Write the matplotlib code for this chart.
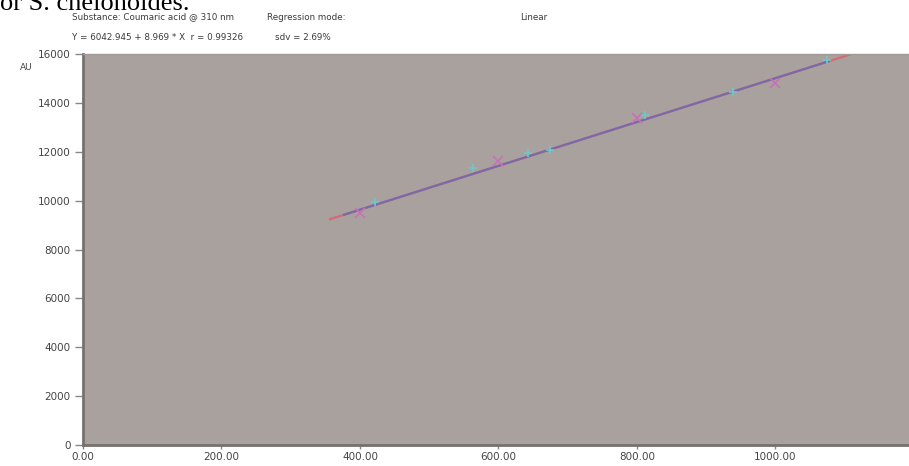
import matplotlib.pyplot as plt
import numpy as np

# calibration data
conc = [400, 600, 800, 1000]
area = [9500, 11620, 13380, 14810]
# cyan marks sitting on the fit line
conc_b = [422, 563, 643, 674, 811, 939, 1074]
area_b = [9943, 11334, 11947, 12070, 13500, 14440, 15750]

intercept = 6042.945
slope = 8.969
fit_x = [357, 1110]

yticks = [0, 2000, 4000, 6000, 8000, 10000, 12000, 14000, 16000]
xticks = [0, 200, 400, 600, 800, 1000]

fig = plt.figure(figsize=(9.09, 4.66), dpi=100)
ax = fig.add_axes([0.0913, 0.045, 0.9087, 0.839])
ax.set_facecolor('#a9a19e')

fx = np.array(fit_x)
ax.plot(fx, intercept + slope * fx, color='#d46a78', lw=1.6, zorder=2)
fx2 = fx[0] + 20 + (fx - fx[0]) * 0.93
ax.plot(fx2, intercept + slope * fx2, color='#7a6aa8', lw=1.6, zorder=3)
ax.plot(conc_b, area_b, ls='none', marker='+', ms=6, mew=1.2, color='#6fc8c8', zorder=4)
ax.plot(conc, area, ls='none', marker='x', ms=7, mew=1.2, color='#c870b8', zorder=5)

ax.set_xlim(0, 1193)
ax.set_ylim(0, 16000)
ax.set_yticks(yticks)
ax.set_yticklabels([str(v) for v in yticks])
ax.set_xticks(xticks)
ax.set_xticklabels(['%.2f' % v for v in xticks])
ax.tick_params(axis='y', length=6, width=1, color='#888888', labelsize=7.5,
               labelcolor='#444444', pad=3)
ax.tick_params(axis='x', length=3, width=1, color='#888888', labelsize=7.5,
               labelcolor='#444444', pad=2)

for s in ['left', 'bottom']:
    ax.spines[s].set_color('#76716f')
    ax.spines[s].set_linewidth(2)
ax.spines['top'].set_color('#a09995')
ax.spines['top'].set_linewidth(1)
ax.spines['right'].set_visible(False)

fig.text(20 / 909, 1 - 70 / 466, 'AU', fontsize=6.5, color='#444444')

hdr = dict(fontsize=6.3, color='#3a3a3a', va='center')
fig.text(72 / 909, 1 - 17 / 466, 'Substance: Coumaric acid @ 310 nm', **hdr)
fig.text(267 / 909, 1 - 17 / 466, 'Regression mode:', **hdr)
fig.text(520 / 909, 1 - 17 / 466, 'Linear', **hdr)
fig.text(72 / 909, 1 - 38 / 466, 'Y = 6042.945 + 8.969 * X  r = 0.99326', **hdr)
fig.text(275 / 909, 1 - 38 / 466, 'sdv = 2.69%', **hdr)

# body text from the page the chart was cut out of
fig.text(0, 1 - 10 / 466, 'or S. chelonoides.', fontsize=19, family='Liberation Serif',
         color='black', va='baseline')

fig.savefig('out.png', dpi=100)
